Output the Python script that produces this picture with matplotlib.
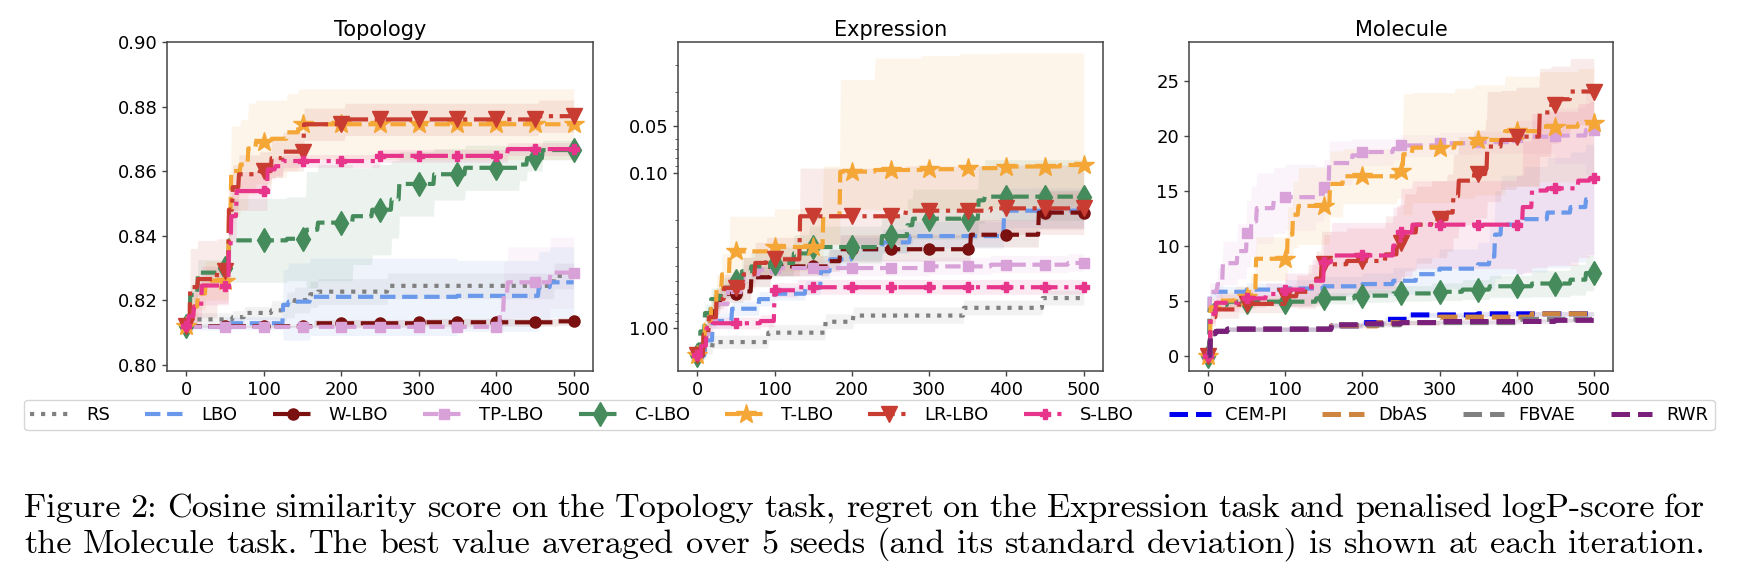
import numpy as np
import matplotlib
matplotlib.use("Agg")
import matplotlib.pyplot as plt
from matplotlib.ticker import FixedLocator, FixedFormatter, NullFormatter

# ---------------- DATA (step breakpoints: iteration, mean, std) ----------------
iterations = np.arange(0, 501)

# Topology (cosine similarity)
top_rs_x = [0, 60, 75, 110, 130, 140, 160, 170, 260, 475]
top_rs_m = [0.8140, 0.8147, 0.8160, 0.8168, 0.8185, 0.8200, 0.8218, 0.8226, 0.8244, 0.8275]
top_rs_s = [0.002, 0.002, 0.002, 0.003, 0.004, 0.004, 0.004, 0.004, 0.004, 0.004]
top_lbo_x = [0, 50, 125, 132, 160, 350, 455, 470]
top_lbo_m = [0.8117, 0.8128, 0.8185, 0.8195, 0.8210, 0.8213, 0.8240, 0.8255]
top_lbo_s = [0.001, 0.002, 0.011, 0.012, 0.012, 0.011, 0.011, 0.011]
top_w_x = [0, 165, 300, 480]
top_w_m = [0.8119, 0.8128, 0.8131, 0.8134]
top_w_s = [0.0003, 0.0012, 0.0012, 0.0012]
top_tp_x = [0, 405, 410, 415, 470]
top_tp_m = [0.8117, 0.8160, 0.8220, 0.8255, 0.8285]
top_tp_s = [0.0003, 0.006, 0.010, 0.011, 0.011]
top_c_x = [0, 5, 15, 50, 55, 130, 155, 170, 215, 240, 265, 275, 320, 360, 430, 440, 460]
top_c_m = [0.8120, 0.8216, 0.8285, 0.8300, 0.8385, 0.8390, 0.8418, 0.8440, 0.8460, 0.8480,
           0.8512, 0.8560, 0.8590, 0.8610, 0.8620, 0.8640, 0.8665]
top_c_s = [0.001, 0.003, 0.004, 0.004, 0.013, 0.013, 0.018, 0.018, 0.015, 0.014, 0.012, 0.010,
           0.008, 0.007, 0.005, 0.004, 0.003]
top_t_x = [0, 5, 15, 25, 55, 58, 70, 80, 90, 110, 130, 145]
top_t_m = [0.8120, 0.8180, 0.8220, 0.8260, 0.8480, 0.8600, 0.8620, 0.8670, 0.8690, 0.8700, 0.8720, 0.8745]
top_t_s = [0.001, 0.004, 0.005, 0.006, 0.012, 0.014, 0.014, 0.014, 0.013, 0.012, 0.012, 0.011]
top_lr_x = [0, 5, 15, 40, 55, 60, 68, 95, 110, 125, 152, 205, 455]
top_lr_m = [0.8120, 0.8240, 0.8265, 0.8290, 0.8480, 0.8550, 0.8590, 0.8600, 0.8640, 0.8660,
            0.8745, 0.8760, 0.8770]
top_lr_s = [0.001, 0.012, 0.012, 0.010, 0.008, 0.007, 0.006, 0.006, 0.006, 0.006, 0.005, 0.005, 0.005]
top_s_x = [0, 3, 10, 20, 55, 58, 65, 105, 115, 125, 250, 415]
top_s_m = [0.8120, 0.8150, 0.8180, 0.8245, 0.8366, 0.8460, 0.8538, 0.8605, 0.8615, 0.8631, 0.8647, 0.8668]
top_s_s = [0.001, 0.003, 0.005, 0.006, 0.008, 0.008, 0.006, 0.003, 0.003, 0.002, 0.002, 0.002]

# Expression (regret, log scale)
exp_rs_x = [0, 10, 20, 92, 166, 202, 345, 447]
exp_rs_m = [1.50, 1.35, 1.23, 1.07, 0.91, 0.83, 0.74, 0.64]
exp_rs_s = [0.10, 0.12, 0.12, 0.12, 0.10, 0.10, 0.08, 0.07]
exp_lbo_x = [0, 10, 20, 45, 80, 100, 140, 160, 172, 200, 240, 275, 397]
exp_lbo_m = [1.50, 1.20, 0.90, 0.75, 0.65, 0.60, 0.55, 0.43, 0.36, 0.31, 0.28, 0.255, 0.175]
exp_lbo_s = [0.10, 0.12, 0.10, 0.08, 0.07, 0.06, 0.06, 0.05, 0.05, 0.05, 0.05, 0.05, 0.05]
exp_w_x = [0, 5, 12, 20, 30, 60, 70, 95, 170, 185, 354, 442]
exp_w_m = [1.50, 1.20, 0.90, 0.70, 0.60, 0.58, 0.47, 0.40, 0.37, 0.31, 0.25, 0.18]
exp_w_s = [0.10, 0.10, 0.10, 0.10, 0.08, 0.08, 0.07, 0.06, 0.06, 0.06, 0.05, 0.05]
exp_tp_x = [0, 8, 15, 25, 40, 60, 80, 100, 300, 380, 480]
exp_tp_m = [1.50, 1.10, 0.90, 0.70, 0.55, 0.45, 0.42, 0.41, 0.40, 0.39, 0.38]
exp_tp_s = [0.10, 0.10, 0.10, 0.10, 0.08, 0.06, 0.05, 0.05, 0.05, 0.05, 0.05]
exp_c_x = [0, 4, 10, 18, 30, 50, 58, 70, 95, 125, 145, 239, 272, 279, 364, 372]
exp_c_m = [1.50, 1.05, 0.80, 0.65, 0.55, 0.50, 0.43, 0.40, 0.38, 0.33, 0.30, 0.255, 0.217, 0.197, 0.15, 0.142]
exp_c_s = [0.10, 0.10, 0.10, 0.10, 0.08, 0.08, 0.08, 0.08, 0.08, 0.08, 0.08, 0.07, 0.07, 0.07, 0.06, 0.06]
exp_t_x = [0, 5, 10, 18, 25, 32, 42, 100, 163, 185, 230, 290, 340, 390, 470]
exp_t_m = [1.50, 1.30, 0.95, 0.75, 0.55, 0.45, 0.32, 0.30, 0.19, 0.098, 0.0956, 0.0945, 0.093, 0.0908, 0.0888]
exp_t_s = [0.10, 0.10, 0.10, 0.10, 0.10, 0.12, 0.13, 0.13, 0.10, 0.073, 0.0775, 0.0770, 0.0760, 0.0740, 0.0720]
exp_lr_x = [0, 8, 15, 25, 35, 60, 75, 90, 133, 270, 380]
exp_lr_m = [1.50, 1.10, 0.85, 0.65, 0.55, 0.45, 0.38, 0.36, 0.19, 0.175, 0.169]
exp_lr_s = [0.10, 0.10, 0.10, 0.10, 0.10, 0.10, 0.10, 0.10, 0.097, 0.085, 0.080]
exp_s_x = [0, 5, 12, 20, 82, 100, 130]
exp_s_m = [1.50, 1.30, 1.00, 0.93, 0.90, 0.57, 0.545]
exp_s_s = [0.10, 0.10, 0.10, 0.08, 0.08, 0.06, 0.06]

# Molecule (penalised logP)
mol_lbo_x = [0, 2, 8, 50, 100, 150, 200, 240, 270, 300, 350, 365, 372, 380, 410, 440, 470, 490]
mol_lbo_m = [0, 5.5, 5.8, 6.0, 6.1, 6.3, 6.5, 6.8, 7.4, 7.9, 8.3, 9.0, 11.0, 11.9, 12.4, 13.0, 13.5, 14.2]
mol_lbo_s = [0, 0.5, 0.5, 0.6, 0.8, 0.9, 1.0, 1.2, 1.5, 1.8, 2.0, 3.0, 4.0, 4.5, 4.8, 5.0, 5.0, 5.0]
mol_tp_x = [0, 2, 12, 19, 38, 50, 56, 63, 85, 100, 140, 150, 157, 187, 200, 240, 250, 300, 350, 400, 450, 490]
mol_tp_m = [0, 5.8, 6.5, 8.4, 9.5, 11.1, 12.2, 13.4, 14.1, 14.4, 14.7, 15.3, 17.5, 18.2, 18.5, 18.8,
            19.1, 19.3, 19.4, 19.9, 20.0, 20.5]
mol_tp_s = [0, 0.8, 1.5, 2.0, 2.5, 3.0, 3.2, 3.2, 3.0, 3.0, 2.5, 2.5, 2.0, 1.5, 1.2, 1.0, 1.0, 1.0,
            1.0, 1.5, 2.5, 4.0]
mol_c_x = [0, 2, 8, 25, 140, 190, 240, 290, 330, 365, 420, 470, 490]
mol_c_m = [0, 4.2, 4.6, 4.9, 5.2, 5.45, 5.65, 5.8, 6.0, 6.3, 6.55, 6.9, 7.5]
mol_c_s = [0, 0.4, 0.4, 0.4, 0.5, 0.6, 0.7, 0.8, 0.9, 1.0, 1.2, 1.4, 1.6]
mol_t_x = [0, 3, 15, 35, 55, 62, 103, 110, 117, 158, 175, 245, 253, 265, 320, 345, 385, 430, 480]
mol_t_m = [0, 4.4, 5.0, 5.3, 5.8, 8.8, 11.0, 12.8, 13.6, 15.6, 16.3, 16.8, 18.3, 18.9, 19.3, 19.6,
           20.4, 20.8, 21.1]
mol_t_s = [0, 0.8, 0.8, 1.0, 1.5, 2.0, 2.5, 3.0, 3.5, 3.0, 2.5, 2.5, 5.5, 5.0, 5.0, 5.0, 5.0, 5.0, 5.0]
mol_lr_x = [0, 3, 10, 40, 100, 115, 130, 140, 147, 180, 230, 245, 255, 270, 290, 310, 318, 325, 345,
            360, 362, 380, 400, 430, 445, 455, 470]
mol_lr_m = [0, 3.5, 4.2, 4.7, 5.4, 5.8, 6.3, 7.0, 8.3, 8.6, 9.2, 10.2, 11.2, 11.9, 12.4, 13.0, 14.5,
            15.9, 16.5, 17.0, 19.0, 19.6, 19.9, 22.1, 22.8, 23.3, 24.0]
mol_lr_s = [0, 0.8, 0.8, 0.8, 1.0, 1.5, 2.0, 2.5, 3.0, 3.0, 3.5, 3.5, 3.5, 3.5, 3.5, 3.5, 3.8, 4.0,
            4.0, 4.5, 5.0, 4.5, 4.5, 4.0, 3.5, 3.0, 3.0]
mol_s_x = [0, 3, 10, 40, 75, 100, 135, 150, 160, 240, 250, 265, 400, 408, 420, 440, 480, 495]
mol_s_m = [0, 3.8, 4.8, 5.2, 5.6, 6.0, 6.8, 8.5, 9.1, 10.0, 11.2, 11.9, 11.9, 13.5, 15.0, 15.2, 15.9, 16.1]
mol_s_s = [0, 0.8, 0.8, 0.8, 1.0, 1.5, 2.0, 2.5, 3.0, 3.5, 4.0, 4.0, 4.5, 6.0, 7.0, 7.0, 7.0, 7.0]
mol_cem_x = [0, 3, 10, 25, 160, 200, 230, 260, 350]
mol_cem_m = [0, 2.0, 2.2, 2.4, 2.7, 3.0, 3.3, 3.7, 3.8]
mol_cem_s = [0, 0.2, 0.2, 0.2, 0.2, 0.2, 0.2, 0.2, 0.2]
mol_dbas_x = [0, 3, 10, 25, 160, 220, 300, 420]
mol_dbas_m = [0, 2.0, 2.2, 2.4, 2.7, 3.0, 3.5, 3.8]
mol_dbas_s = [0, 0.2, 0.2, 0.2, 0.2, 0.2, 0.2, 0.2]
mol_fb_x = [0, 3, 10, 25, 160, 250, 400]
mol_fb_m = [0, 2.0, 2.2, 2.4, 2.8, 3.0, 3.3]
mol_fb_s = [0, 0.2, 0.2, 0.2, 0.2, 0.2, 0.2]
mol_rwr_x = [0, 3, 10, 25, 160, 200, 250, 300, 450]
mol_rwr_m = [0, 2.0, 2.2, 2.4, 2.8, 2.9, 3.0, 3.1, 3.2]
mol_rwr_s = [0, 0.2, 0.2, 0.2, 0.2, 0.2, 0.2, 0.2, 0.2]

method_names = ["RS", "LBO", "W-LBO", "TP-LBO", "C-LBO", "T-LBO", "LR-LBO", "S-LBO",
                "CEM-PI", "DbAS", "FBVAE", "RWR"]
panel_titles = ["Topology", "Expression", "Molecule"]
x_ticks = [0, 100, 200, 300, 400, 500]
topo_ticks = [0.80, 0.82, 0.84, 0.86, 0.88, 0.90]
expr_ticks = [0.05, 0.10, 1.00]
mol_ticks = [0, 5, 10, 15, 20, 25]

caption_1 = ("Figure 2: Cosine similarity score on the Topology task, regret on the Expression "
             "task and penalised logP-score for")
caption_2 = ("the Molecule task. The best value averaged over 5 seeds (and its standard deviation) "
             "is shown at each iteration.")

# ---------------- STYLES ----------------
STY = {
    "RS":     dict(color="#808080", ls=":", marker=None, ms=0),
    "LBO":    dict(color="#6A98EA", ls="--", marker=None, ms=0),
    "W-LBO":  dict(color="#7A1010", ls="--", marker="o", ms=8),
    "TP-LBO": dict(color="#D8A1D8", ls="--", marker="s", ms=7),
    "C-LBO":  dict(color="#458B5B", ls="--", marker="d", ms=12),
    "T-LBO":  dict(color="#F4A637", ls="--", marker="*", ms=15),
    "LR-LBO": dict(color="#C93C31", ls="-.", marker="v", ms=12),
    "S-LBO":  dict(color="#E8358C", ls="-.", marker="P", ms=7),
    "CEM-PI": dict(color="#0000EE", ls="--", marker=None, ms=0),
    "DbAS":   dict(color="#CD853F", ls="--", marker=None, ms=0),
    "FBVAE":  dict(color="#808080", ls="--", marker=None, ms=0),
    "RWR":    dict(color="#7A1F7A", ls="--", marker=None, ms=0),
}

plt.rcParams["font.family"] = ["DejaVu Sans"]

W, H = 1746, 562
fig = plt.figure(figsize=(W / 100, H / 100), dpi=100)

def px_axes(x0, x1, y0, y1):
    return fig.add_axes([x0 / W, 1 - y1 / H, (x1 - x0) / W, (y1 - y0) / H])

ax_t = px_axes(167, 593, 42, 371)
ax_e = px_axes(678, 1103, 42, 371)
ax_m = px_axes(1189, 1613, 42, 371)

def expand(xs, vs):
    xs = np.asarray(xs, float)
    vs = np.asarray(vs, float)
    idx = np.searchsorted(xs, iterations, side="right") - 1
    return vs[idx]

handles = {}

def draw(ax, name, xs, ms, ss):
    st = STY[name]
    m = expand(xs, ms)
    s = expand(xs, ss)
    ax.fill_between(iterations, m - s, m + s, color=st["color"], alpha=0.10, lw=0)
    lw = 3.0 if name not in ("CEM-PI", "DbAS", "FBVAE", "RWR") else 3.6
    kw = {}
    if st["marker"]:
        kw = dict(marker=st["marker"], markersize=st["ms"], markevery=50,
                  markerfacecolor=st["color"], markeredgecolor=st["color"])
    line, = ax.plot(iterations, m, color=st["color"], ls=st["ls"], lw=lw, label=name, **kw)
    handles.setdefault(name, line)

# Topology
draw(ax_t, "RS", top_rs_x, top_rs_m, top_rs_s)
draw(ax_t, "LBO", top_lbo_x, top_lbo_m, top_lbo_s)
draw(ax_t, "W-LBO", top_w_x, top_w_m, top_w_s)
draw(ax_t, "TP-LBO", top_tp_x, top_tp_m, top_tp_s)
draw(ax_t, "C-LBO", top_c_x, top_c_m, top_c_s)
draw(ax_t, "T-LBO", top_t_x, top_t_m, top_t_s)
draw(ax_t, "LR-LBO", top_lr_x, top_lr_m, top_lr_s)
draw(ax_t, "S-LBO", top_s_x, top_s_m, top_s_s)
# Expression
draw(ax_e, "RS", exp_rs_x, exp_rs_m, exp_rs_s)
draw(ax_e, "LBO", exp_lbo_x, exp_lbo_m, exp_lbo_s)
draw(ax_e, "W-LBO", exp_w_x, exp_w_m, exp_w_s)
draw(ax_e, "TP-LBO", exp_tp_x, exp_tp_m, exp_tp_s)
draw(ax_e, "C-LBO", exp_c_x, exp_c_m, exp_c_s)
draw(ax_e, "T-LBO", exp_t_x, exp_t_m, exp_t_s)
draw(ax_e, "LR-LBO", exp_lr_x, exp_lr_m, exp_lr_s)
draw(ax_e, "S-LBO", exp_s_x, exp_s_m, exp_s_s)
# Molecule
draw(ax_m, "LBO", mol_lbo_x, mol_lbo_m, mol_lbo_s)
draw(ax_m, "TP-LBO", mol_tp_x, mol_tp_m, mol_tp_s)
draw(ax_m, "C-LBO", mol_c_x, mol_c_m, mol_c_s)
draw(ax_m, "T-LBO", mol_t_x, mol_t_m, mol_t_s)
draw(ax_m, "LR-LBO", mol_lr_x, mol_lr_m, mol_lr_s)
draw(ax_m, "S-LBO", mol_s_x, mol_s_m, mol_s_s)
draw(ax_m, "CEM-PI", mol_cem_x, mol_cem_m, mol_cem_s)
draw(ax_m, "DbAS", mol_dbas_x, mol_dbas_m, mol_dbas_s)
draw(ax_m, "FBVAE", mol_fb_x, mol_fb_m, mol_fb_s)
draw(ax_m, "RWR", mol_rwr_x, mol_rwr_m, mol_rwr_s)

for ax, title in zip([ax_t, ax_e, ax_m], panel_titles):
    ax.set_title(title, fontsize=15, pad=4)
    ax.set_xlim(-25, 525)
    ax.set_xticks(x_ticks)
    ax.tick_params(labelsize=13, length=3.5, width=1, color="#444444")
    for sp in ax.spines.values():
        sp.set_color("#444444")
        sp.set_linewidth(1.1)

ax_t.set_ylim(0.798, 0.9)
ax_t.set_yticks(topo_ticks)
ax_t.set_yticklabels([f"{v:.2f}" for v in topo_ticks])

ax_e.set_yscale("log")
ax_e.set_ylim(1.89, 0.0143)
ax_e.yaxis.set_major_locator(FixedLocator(expr_ticks))
ax_e.yaxis.set_major_formatter(FixedFormatter([f"{v:.2f}" for v in expr_ticks]))
ax_e.yaxis.set_minor_formatter(NullFormatter())
ax_e.tick_params(axis="y", which="minor", length=2, color="#444444")

ax_m.set_ylim(-1.4, 28.5)
ax_m.set_yticks(mol_ticks)

leg = fig.legend([handles[n] for n in method_names], method_names,
                 loc="center", bbox_to_anchor=(24 / W, 1 - 432 / H, 1691 / W, 34 / H),
                 mode="expand", ncol=12, fontsize=13, frameon=True, borderaxespad=0,
                 handlelength=2.3, borderpad=0.35)
leg.get_frame().set_edgecolor("#cccccc")
leg.get_frame().set_linewidth(1.0)

# Caption (justified lines, Computer Modern)
renderer = fig.canvas.get_renderer()
cap_left, cap_right = 24, 1705

def text_width(s, fs):
    t = fig.text(0, 0, s, fontsize=fs, family="cmr10")
    w = t.get_window_extent(renderer).width
    t.remove()
    return w

probe = 20
fs_cap = probe * (cap_right - cap_left) / text_width(caption_2, probe)

def justified(line, baseline):
    words = line.split(" ")
    widths = [text_width(w, fs_cap) for w in words]
    gap = (cap_right - cap_left - sum(widths)) / (len(words) - 1)
    x = cap_left
    for w, wd in zip(words, widths):
        fig.text(x / W, 1 - baseline / H, w, fontsize=fs_cap, family="cmr10",
                 ha="left", va="baseline")
        x += wd + gap

justified(caption_1, 517)
justified(caption_2, 553)

fig.savefig("out.png", dpi=100)
